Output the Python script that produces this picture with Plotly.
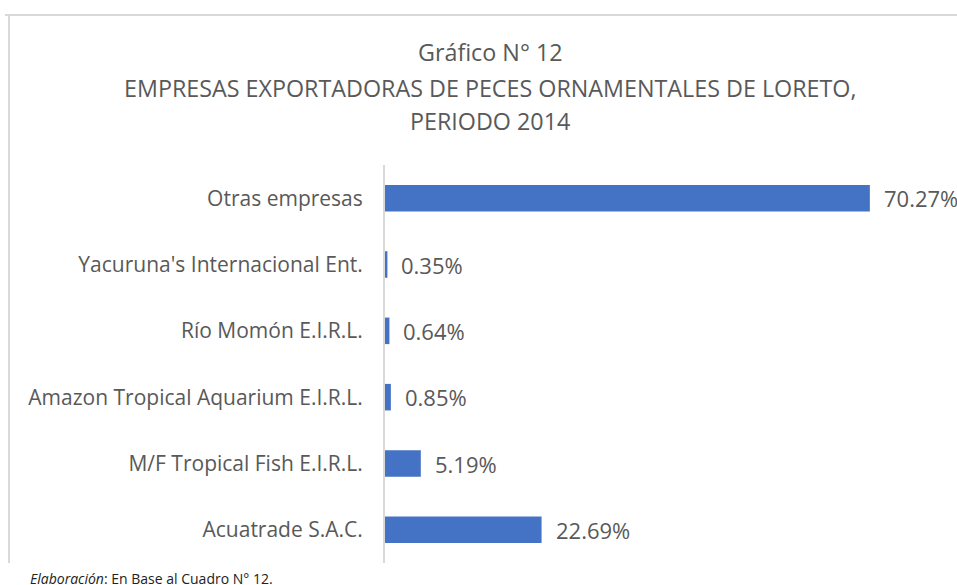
import plotly.graph_objects as go

categories = ["Acuatrade S.A.C.", "M/F Tropical Fish E.I.R.L.", "Amazon Tropical Aquarium E.I.R.L.",
              "Río Momón E.I.R.L.", "Yacuruna's Internacional Ent.", "Otras empresas"]
values = [22.69, 5.19, 0.85, 0.64, 0.35, 70.27]
labels = ["22.69%", "5.19%", "0.85%", "0.64%", "0.35%", "70.27%"]
title_lines = ["Gráfico N° 12", "EMPRESAS EXPORTADORAS DE PECES ORNAMENTALES DE LORETO,", "PERIODO 2014"]

OFF = 0  # page body margin removed via post_script
W, H = 957, 585
PL, PT, PB = 385, 165, 563
L = PL - OFF
T = PT - OFF
B = H - (PB - OFF)
R = 0
pw, ph = W - L - R, H - T - B

def px(x):
    return (x - OFF - L) / pw

def py(y):
    return 1 + (T - (y - OFF)) / ph

FONT = "Open Sans"
GREY = "#595959"

fig = go.Figure(go.Bar(
    x=values, y=categories, orientation="h",
    marker=dict(color="#4472C4", line=dict(width=0)),
    cliponaxis=False, hoverinfo="skip",
))

annotations = []
for v, c, t in zip(values, categories, labels):
    annotations.append(dict(x=v, y=c, xref="x", yref="y", text=t, showarrow=False,
                            xanchor="left", yanchor="middle", xshift=12,
                            font=dict(family=FONT, size=22, color=GREY)))

for line, yy in zip(title_lines, [52, 88, 121]):
    annotations.append(dict(x=px(490), y=py(yy), xref="paper", yref="paper", text=line,
                            showarrow=False, xanchor="center", yanchor="middle",
                            font=dict(family=FONT, size=23.3, color=GREY)))

annotations.append(dict(x=px(28), y=py(578), xref="paper", yref="paper",
                        text="<i>Elaboración</i>: En Base al Cuadro N° 12.",
                        showarrow=False, xanchor="left", yanchor="middle",
                        font=dict(family=FONT, size=14, color="#222222")))

shapes = [
    dict(type="line", xref="paper", yref="paper", x0=px(5), x1=px(957), y0=py(15), y1=py(15),
         line=dict(color="#D9D9D9", width=2)),
    dict(type="line", xref="paper", yref="paper", x0=px(9), x1=px(9), y0=py(15), y1=py(563),
         line=dict(color="#D9D9D9", width=2)),
]

fig.update_layout(
    width=W, height=H,
    margin=dict(l=L, r=R, t=T, b=B, pad=0),
    paper_bgcolor="white", plot_bgcolor="white",
    showlegend=False, bargap=0.6,
    annotations=annotations, shapes=shapes,
    xaxis=dict(range=[0, 82.9], showgrid=False, zeroline=False, showticklabels=False,
               showline=False, fixedrange=True),
    yaxis=dict(showgrid=False, zeroline=False, showline=True, linecolor="#D9D9D9", linewidth=2,
               ticks="", ticklabelstandoff=16,
               tickfont=dict(family=FONT, size=21, color=GREY), fixedrange=True),
)

fig.write_html("out.html", config={"displayModeBar": False},
               post_script="document.body.style.margin='0';document.body.style.overflow='hidden';")
